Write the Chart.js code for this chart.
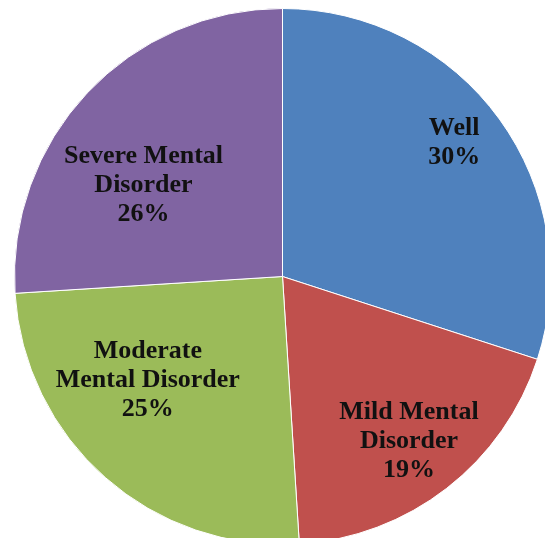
<!DOCTYPE html>
<html>
<head>
<meta charset="utf-8">
<script src="https://cdn.jsdelivr.net/npm/chart.js@4.4.1/dist/chart.umd.min.js"></script>
<style>
    html, body { margin: 0; padding: 0; background: #fff; overflow: hidden; }
    body { width: 545px; height: 538px; position: relative; }
    #pieChart { position: absolute; left: 14px; top: 8px; }
</style>
</head>
<body>
<canvas id="pieChart" width="537" height="537"></canvas>
<script>
// chart data
const categories = ['Well', 'Mild Mental Disorder', 'Moderate Mental Disorder', 'Severe Mental Disorder'];
const shares = [30, 19, 25, 26];
const labelLines = [
    ['Well'],
    ['Mild Mental', 'Disorder'],
    ['Moderate', 'Mental Disorder'],
    ['Severe Mental', 'Disorder']
];
const sliceColors = ['#4F81BD', '#C0504D', '#9BBB59', '#8064A2'];

// draws the in-slice labels like excel does
const sliceLabels = {
    id: 'sliceLabels',
    afterDatasetsDraw(chart, args, opts) {
        const ctx = chart.ctx;
        const arcs = chart.getDatasetMeta(0).data;
        const total = shares.reduce((a, b) => a + b, 0);
        ctx.save();
        ctx.font = opts.font;
        ctx.fillStyle = opts.color;
        ctx.textAlign = 'center';
        ctx.textBaseline = 'alphabetic';
        arcs.forEach((arc, i) => {
            const p = arc.getProps(['x', 'y', 'startAngle', 'endAngle', 'outerRadius'], true);
            const mid = (p.startAngle + p.endAngle) / 2 + opts.turn[i] * Math.PI / 180;
            const r = p.outerRadius * opts.radius[i];
            const cx = p.x + Math.cos(mid) * r;
            const cy = p.y + Math.sin(mid) * r;
            const lines = labelLines[i].concat([Math.round(shares[i] / total * 100) + '%']);
            const first = cy - (lines.length - 1) * opts.lineHeight / 2 + opts.capHeight / 2;
            lines.forEach((txt, k) => {
                ctx.fillText(txt, cx, first + k * opts.lineHeight);
            });
        });
        ctx.restore();
    }
};

const ctx = document.getElementById('pieChart').getContext('2d');
window.pieChart = new Chart(ctx, {
    type: 'pie',
    data: {
        labels: categories,
        datasets: [{
            data: shares,
            backgroundColor: sliceColors,
            borderColor: '#ffffff',
            borderWidth: 1
        }]
    },
    options: {
        responsive: false,
        animation: false,
        devicePixelRatio: 1,
        layout: { padding: 0 },
        plugins: {
            legend: { display: false },
            tooltip: { enabled: false },
            sliceLabels: {
                font: 'bold 26px "Liberation Serif", "Times New Roman", serif',
                color: '#111111',
                lineHeight: 29,
                capHeight: 17,
                radius: [0.815, 0.77, 0.63, 0.625],
                turn: [-2.2, 0, 11.5, -9.3]
            }
        }
    },
    plugins: [sliceLabels]
});
</script>
</body>
</html>
